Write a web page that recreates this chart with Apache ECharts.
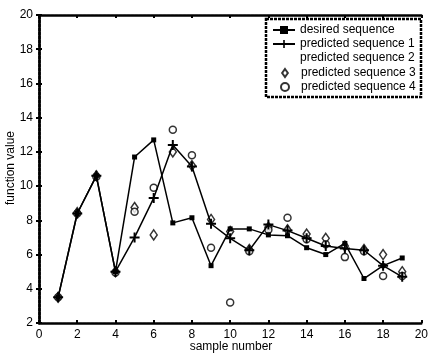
<!DOCTYPE html>
<html>
<head>
<meta charset="utf-8">
<script src="https://cdn.jsdelivr.net/npm/echarts@6/dist/echarts.min.js"></script>
<style>
  html, body { margin: 0; padding: 0; background: #fff; }
  #chart { width: 431px; height: 354px; }
</style>
</head>
<body>
<div id="chart"></div>
<script>
// sample numbers and the five sequences
var samples = [1, 2, 3, 4, 5, 6, 7, 8, 9, 10, 11, 12, 13, 14, 15, 16, 17, 18, 19];
var desired = [3.5, 8.4, 10.6, 5.0, 11.7, 12.7, 7.85, 8.15, 5.35, 7.5, 7.5, 7.15, 7.1, 6.4, 6.0, 6.65, 4.6, 5.35, 5.8];
var predicted1 = [3.5, 8.4, 10.6, 5.0, 7.0, 9.3, 12.4, 11.15, 7.8, 6.95, 6.25, 7.75, 7.4, 6.95, 6.5, 6.35, 6.25, 5.35, 4.7];
var predicted2 = [];
var predicted3 = [3.5, 8.45, 10.6, 5.0, 8.75, 7.15, 12.0, 11.2, 8.05, 7.35, 6.3, 7.6, 7.45, 7.2, 6.95, 6.5, 6.3, 6.0, 5.0];
var predicted4 = [3.5, 8.4, 10.55, 4.95, 8.5, 9.9, 13.3, 11.8, 6.4, 3.2, 6.2, 7.45, 8.15, 6.9, 6.6, 5.85, 6.2, 4.75, 4.75];
var seriesNames = ['desired sequence', 'predicted sequence 1', 'predicted sequence 2', 'predicted sequence 3', 'predicted sequence 4'];

function pairs(ys) {
    var out = [];
    for (var i = 0; i < ys.length; i++) {
        out.push([samples[i], ys[i]]);
    }
    return out;
}

var font = 'Liberation Sans, Arial, sans-serif';
var frame = { color: '#000', width: 2.5, type: [3, 1] };
var plus = 'path://M4,0H6V4H10V6H6V10H4V6H0V4H4Z';
var diamond = 'path://M5,0L10,7L5,14L0,7Z';
var tick = { inside: true, length: 3, lineStyle: { color: '#000', width: 2 } };
var legendText = { color: '#000', fontSize: 12, fontFamily: font };

var chart = echarts.init(document.getElementById('chart'), null, { renderer: 'canvas' });

var option = {
    animation: false,
    backgroundColor: '#fff',
    grid: { left: 39, top: 15, width: 386, height: 308 },
    xAxis: [
        {
            type: 'value', min: 0, max: 20, interval: 2, position: 'bottom',
            axisLine: { lineStyle: frame },
            axisTick: tick,
            axisLabel: { color: '#000', fontSize: 12, fontFamily: font, margin: 6 },
            splitLine: { show: false }
        },
        {
            type: 'value', min: 0, max: 20, interval: 2, position: 'top',
            axisLine: { lineStyle: frame },
            axisTick: tick,
            axisLabel: { show: false },
            splitLine: { show: false }
        }
    ],
    yAxis: [
        {
            type: 'value', min: 2, max: 20, interval: 2, position: 'left',
            axisLine: { lineStyle: frame },
            axisTick: tick,
            axisLabel: { color: '#000', fontSize: 12, fontFamily: font, margin: 6 },
            splitLine: { show: false }
        },
        {
            type: 'value', min: 2, max: 20, interval: 2, position: 'right',
            axisLine: { lineStyle: frame },
            axisTick: tick,
            axisLabel: { show: false },
            splitLine: { show: false }
        }
    ],
    legend: [
        {
            orient: 'vertical',
            left: 272, top: 24,
            itemWidth: 22, itemHeight: 10, itemGap: 2,
            padding: 0,
            textStyle: legendText,
            data: seriesNames.slice(0, 3)
        },
        {
            orient: 'vertical',
            left: 280, top: 67,
            itemWidth: 22, itemHeight: 8, itemGap: 2,
            padding: 0,
            textStyle: legendText,
            data: [
                { name: seriesNames[3], icon: diamond },
                { name: seriesNames[4], icon: 'circle' }
            ]
        }
    ],
    graphic: [
        {
            type: 'rect',
            shape: { x: 266, y: 19, width: 155, height: 78 },
            style: { fill: 'none', stroke: '#000', lineWidth: 2.5, lineDash: [3, 1] },
            z: 100
        },
        {
            type: 'text',
            x: 231, y: 347,
            style: { text: 'sample number', fill: '#000', font: '12px ' + font, textAlign: 'center', textVerticalAlign: 'middle' }
        },
        {
            type: 'text',
            x: 11, y: 168, rotation: Math.PI / 2,
            style: { text: 'function value', fill: '#000', font: '12px ' + font, textAlign: 'center', textVerticalAlign: 'middle' }
        }
    ],
    series: [
        {
            name: seriesNames[0], type: 'line', data: pairs(desired),
            symbol: 'rect', symbolSize: 5, showAllSymbol: true,
            lineStyle: { color: '#000', width: 1.5 },
            itemStyle: { color: '#000' }
        },
        {
            name: seriesNames[1], type: 'line', data: pairs(predicted1),
            symbol: plus, symbolSize: 10, showAllSymbol: true,
            lineStyle: { color: '#000', width: 1.5 },
            itemStyle: { color: '#000' }
        },
        {
            name: seriesNames[2], type: 'line', data: pairs(predicted2),
            symbol: 'none',
            lineStyle: { color: '#fff', width: 0, opacity: 0 },
            itemStyle: { color: '#fff', opacity: 0 }
        },
        {
            name: seriesNames[3], type: 'scatter', data: pairs(predicted3),
            symbol: 'diamond', symbolSize: [7, 10],
            itemStyle: { color: '#fff', borderColor: '#000', borderWidth: 1.5 }
        },
        {
            name: seriesNames[4], type: 'scatter', data: pairs(predicted4),
            symbol: 'circle', symbolSize: 7,
            itemStyle: { color: '#fff', borderColor: '#000', borderWidth: 1.5 }
        }
    ]
};

chart.setOption(option);
</script>
</body>
</html>
